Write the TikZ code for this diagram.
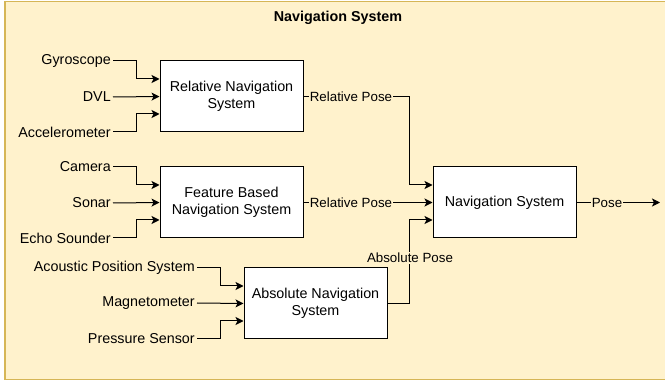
\documentclass[tikz,border=0pt]{standalone}
\usepackage{fontspec}
\setmainfont{Liberation Sans}
\usetikzlibrary{arrows.meta,calc}
\definecolor{bgfill}{HTML}{FFF2CC}
\definecolor{bgdraw}{HTML}{D6B656}
\tikzset{
  box/.style={draw, fill=white, line width=0.75pt, minimum width=107.25pt, minimum height=53.25pt, align=center, inner sep=1pt, font=\fontsize{10.75}{13}\selectfont},
  src/.style={anchor=east, inner sep=1.5pt, font=\fontsize{10.75}{13}\selectfont},
  arr/.style={line width=0.75pt, -{Stealth[length=6pt,width=6pt,inset=1.5pt]}},
  lbl/.style={fill=bgfill, inner sep=0.5pt, font=\fontsize{10}{12}\selectfont},
}
\begin{document}
\begin{tikzpicture}[x=0.75pt,y=-0.75pt]
\useasboundingbox (0,0) rectangle (665,381);
\draw[fill=bgfill, draw=bgdraw, line width=1.2pt] (5,1.5) rectangle (670,379.5);
\node[font=\bfseries\fontsize{10.75}{13}\selectfont] (title) at (338,18) {Navigation System};

\node[box] (rel) at (231.5,96.5) {Relative Navigation\\System};
\node[box] (feat) at (231.5,202.5) {Feature Based\\Navigation System};
\node[box] (abs) at (315.5,303.5) {Absolute Navigation\\System};
\node[box] (nav) at (504.5,202.5) {Navigation System};

\node[src] (gyro) at (113,61) {Gyroscope};
\node[src] (dvl) at (113,97) {DVL};
\node[src] (acc) at (113,132) {Accelerometer};
\node[src] (cam) at (113,167) {Camera};
\node[src] (sonar) at (113,203) {Sonar};
\node[src] (echo) at (113,238) {Echo Sounder};
\node[src] (aps) at (197,268) {Acoustic Position System};
\node[src] (mag) at (197,303) {Magnetometer};
\node[src] (press) at (197,339) {Pressure Sensor};

\draw[arr] (gyro.east) -- ++(23,0) |- ($(rel.west)+(0,-17.5)$);
\draw[arr] (dvl.east) -- (rel.west);
\draw[arr] (acc.east) -- ++(23,0) |- ($(rel.west)+(0,17.5)$);
\draw[arr] (cam.east) -- ++(23,0) |- ($(feat.west)+(0,-17.5)$);
\draw[arr] (sonar.east) -- (feat.west);
\draw[arr] (echo.east) -- ++(23,0) |- ($(feat.west)+(0,17.5)$);
\draw[arr] (aps.east) -- ++(23,0) |- ($(abs.west)+(0,-17.5)$);
\draw[arr] (mag.east) -- (abs.west);
\draw[arr] (press.east) -- ++(23,0) |- ($(abs.west)+(0,17.5)$);

\coordinate (j1) at (409,96.5);
\coordinate (j3) at (409,303.5);
\draw[arr] (rel.east) -- (j1) |- ($(nav.west)+(0,-17.5)$);
\draw[arr] (feat.east) -- (nav.west);
\draw[arr] (abs.east) -- (j3) |- ($(nav.west)+(0,17.5)$);
\coordinate (out) at (660,202.5);
\draw[arr] (nav.east) -- (out);

\node[lbl] (l1) at (351,96.5) {Relative Pose};
\node[lbl] (l2) at (351,202.5) {Relative Pose};
\node[lbl] (l3) at (410,258) {Absolute Pose};
\node[lbl] (l4) at (607,202.5) {Pose};
\end{tikzpicture}
\end{document}
